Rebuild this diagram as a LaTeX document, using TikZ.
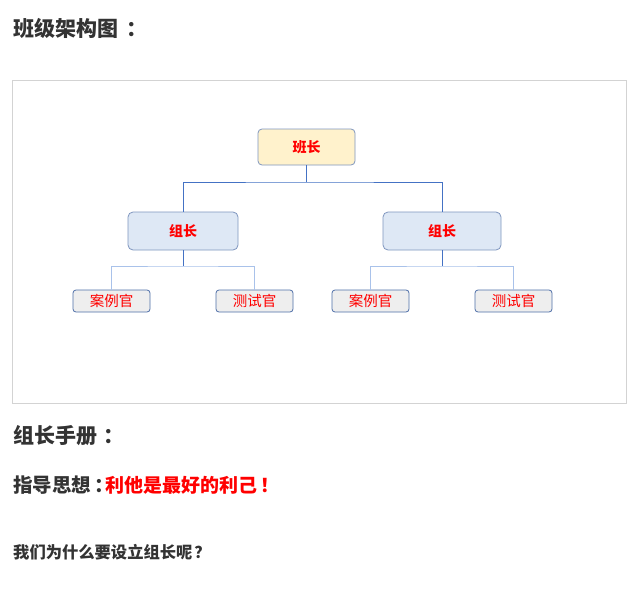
\documentclass[tikz,border=0pt]{standalone}
\usepackage{fontspec}
\setmainfont{Noto Sans CJK SC}
\newfontfamily\cjk{Noto Sans CJK SC}
\definecolor{txt}{HTML}{333333}
\definecolor{red1}{HTML}{FF0000}
\definecolor{lineA}{HTML}{4472C4}
\definecolor{lineB}{HTML}{A9C2EA}
\definecolor{bordA}{HTML}{7F96BF}
\definecolor{bordB}{HTML}{4F6FA8}
\begin{document}
\begin{tikzpicture}[x=1pt,y=-1pt,
  topbox/.style={draw=bordA,fill={rgb,255:red,255;green,242;blue,204},rounded corners=4pt,line width=0.8pt,minimum width=97pt,minimum height=36pt,text=red1,font=\cjk\bfseries\fontsize{14}{16}\selectfont},
  midbox/.style={draw=bordA,fill={rgb,255:red,222;green,232;blue,245},rounded corners=5pt,line width=0.8pt,minimum height=38pt,text=red1,font=\cjk\bfseries\fontsize{14}{16}\selectfont},
  leafbox/.style={draw=bordB,fill={rgb,255:red,238;green,238;blue,238},rounded corners=3pt,line width=0.8pt,minimum width=77pt,minimum height=22pt,inner sep=0pt,text=red1,font=\cjk\fontsize{14.5}{16}\selectfont},
  conA/.style={draw=lineA,line width=0.8pt},
  conB/.style={draw=lineB,line width=0.8pt},
  head/.style={anchor=west,inner sep=0pt,text=txt,font=\cjk\bfseries\fontsize{21}{24}\selectfont}
]
\useasboundingbox[fill=white] (0,0) rectangle (638,589);
\node[head] (t1) at (13,28) {班级架构图\hspace{8pt}：};
\draw[draw={rgb,255:red,211;green,211;blue,211},line width=0.8pt] (12,80) rectangle (626,403);

\node[topbox] (bz) at (306.5,147) {班长};
\node[midbox,minimum width=110pt] (zl1) at (183,231) {组长};
\node[midbox,minimum width=118pt] (zl2) at (442,231) {组长};
\node[leafbox] (a1) at (111.5,301) {案例官};
\node[leafbox] (c1) at (254.5,301) {测试官};
\node[leafbox] (a2) at (370.5,301) {案例官};
\node[leafbox] (c2) at (513.5,301) {测试官};

\coordinate (j0) at (306.5,182);
\draw[conA] (bz.south) -- (j0);
\draw[conA] (zl1.north) |- (j0) -| (zl2.north);

\coordinate (j1) at (183,266);
\coordinate (j2) at (442,266);
\draw[conA] (zl1.south) -- (j1);
\draw[conA] (zl2.south) -- (j2);
\draw[conB] (a1.north) |- (j1) -| (c1.north);
\draw[conB] (a2.north) |- (j2) -| (c2.north);

\node[head] (t2) at (13,436) {组长手册\hspace{6pt}：};
\node[head,font=\cjk\bfseries\fontsize{19.5}{22}\selectfont] (t3) at (13,485) {指导思想\hspace{3pt}\makebox[11pt][l]{：}};
\node[head,text=red1,font=\cjk\bfseries\fontsize{19}{22}\selectfont] (t4) at (t3.east) {利他是最好的利己\hspace{3pt}\makebox[8pt][l]{！}};
\node[anchor=west,inner sep=0pt,text=txt,font=\cjk\bfseries\fontsize{16.3}{18}\selectfont] (t5) at (13,552) {我们为什么要设立组长呢\hspace{2pt}？};
\end{tikzpicture}
\end{document}
